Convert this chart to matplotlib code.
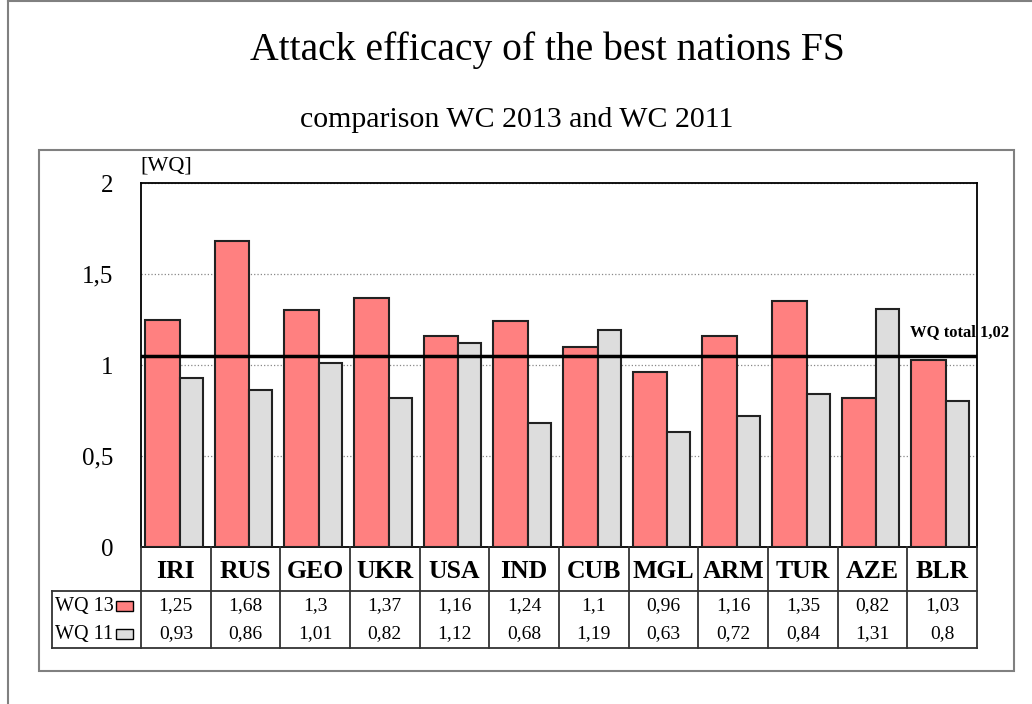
import numpy as np
import matplotlib
matplotlib.use("Agg")
import matplotlib.pyplot as plt
import matplotlib.transforms as mtransforms
from matplotlib.patches import Rectangle
from matplotlib.lines import Line2D

nations = ["IRI", "RUS", "GEO", "UKR", "USA", "IND", "CUB", "MGL", "ARM", "TUR", "AZE", "BLR"]
wq13 = [1.25, 1.68, 1.3, 1.37, 1.16, 1.24, 1.1, 0.96, 1.16, 1.35, 0.82, 1.03]
wq11 = [0.93, 0.86, 1.01, 0.82, 1.12, 0.68, 1.19, 0.63, 0.72, 0.84, 1.31, 0.8]
series_labels = ["WQ 13", "WQ 11"]
total_level = 1.05
total_label = "WQ total 1,02"
y_ticks = [0, 0.5, 1, 1.5, 2]
y_tick_labels = ["0", "0,5", "1", "1,5", "2"]

RED = "#FF8080"
GREY = "#DDDDDD"
FRAME = "#808080"

W, H = 1032, 704
plt.rcParams['font.family'] = ['Liberation Serif', 'DejaVu Serif']

fig = plt.figure(figsize=(W / 100, H / 100), dpi=100)


def fx(px):
    return px / W


def fy(py):
    return 1 - py / H


# outer and inner frames
fig.add_artist(Line2D([fx(8), fx(8)], [fy(1), fy(704)], color=FRAME, lw=1.5))
fig.add_artist(Line2D([fx(8), fx(1032)], [fy(1), fy(1)], color=FRAME, lw=1.5))
fig.add_artist(Rectangle((fx(39), fy(671)), fx(1014) - fx(39), (671 - 150) / H,
                         fill=False, edgecolor=FRAME, lw=1.5, transform=fig.transFigure))

# titles
fig.text(fx(547), fy(50), "Attack efficacy of the best nations FS", fontsize=28.5,
         ha="center", va="center")
fig.text(fx(517), fy(120), "comparison WC 2013 and WC 2011", fontsize=21.5,
         ha="center", va="center")

ax = fig.add_axes([fx(141), fy(547), (977 - 141) / W, (547 - 183) / H])
x = np.arange(len(nations))
ax.bar(x + 0.057, wq13, width=0.5, align="edge", color=RED, edgecolor="#222222", lw=1.5, zorder=3)
ax.bar(x + 0.557, wq11, width=0.33, align="edge", color=GREY, edgecolor="#222222", lw=1.5, zorder=3)
ax.axhline(total_level, color="black", lw=2.5, zorder=4)

ax.set_xlim(0, len(nations))
ax.set_ylim(0, 2)
ax.set_xticks([])
ax.set_yticks(y_ticks)
ax.set_yticklabels(y_tick_labels, fontsize=18)
ax.tick_params(axis="y", length=0, pad=20)
ax.yaxis.grid(True, linestyle=":", color="#888888", lw=0.9)
ax.set_axisbelow(True)
for s in ax.spines.values():
    s.set_linewidth(1.3)

fig.text(fx(140), fy(166), "[WQ]", fontsize=16, ha="left", va="center")
fig.text(fx(910), fy(332), total_label, fontsize=12, fontweight="bold", ha="left", va="center")

# data table under the axis
tr = mtransforms.blended_transform_factory(ax.transData, fig.transFigure)
lc = "#333333"
for i in range(len(nations) + 1):
    fig.add_artist(Line2D([i, i], [fy(547), fy(648)], color=lc, lw=1.3, transform=tr))
fig.add_artist(Line2D([0, len(nations)], [fy(591), fy(591)], color=lc, lw=1.3, transform=tr))
fig.add_artist(Line2D([0, len(nations)], [fy(648), fy(648)], color=lc, lw=1.3, transform=tr))
fig.add_artist(Line2D([fx(52), fx(141)], [fy(591), fy(591)], color=lc, lw=1.3))
fig.add_artist(Line2D([fx(52), fx(141)], [fy(648), fy(648)], color=lc, lw=1.3))
fig.add_artist(Line2D([fx(52), fx(52)], [fy(591), fy(648)], color=lc, lw=1.3))

for i, name in enumerate(nations):
    fig.text(i + 0.5, fy(572), name, fontsize=18.5, fontweight="bold",
             ha="center", va="center", transform=tr)
    fig.text(i + 0.5, fy(606), str(wq13[i]).replace(".", ","), fontsize=14,
             ha="center", va="center", transform=tr)
    fig.text(i + 0.5, fy(634), str(wq11[i]).replace(".", ","), fontsize=14,
             ha="center", va="center", transform=tr)

for lab, col, yc in zip(series_labels, [RED, GREY], [606, 634]):
    fig.text(fx(55), fy(yc), lab, fontsize=14.5, ha="left", va="center")
    fig.add_artist(Rectangle((fx(116), fy(yc + 5)), fx(133) - fx(116), 10 / H,
                             facecolor=col, edgecolor="black", lw=1.0,
                             transform=fig.transFigure))

fig.savefig("out.png", dpi=100)
